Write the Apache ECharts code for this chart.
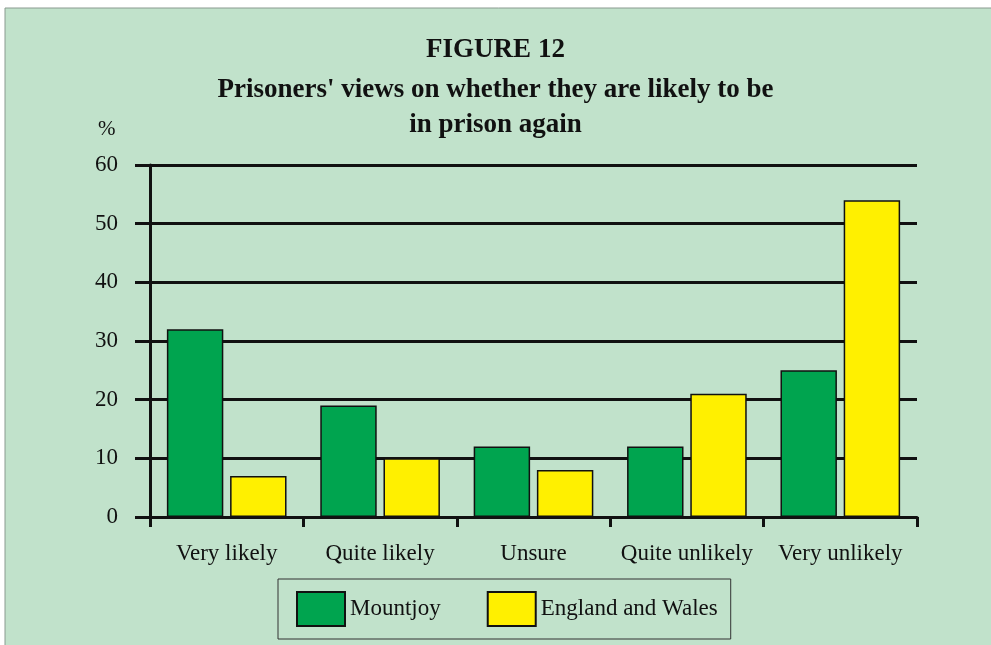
<!DOCTYPE html>
<html><head><meta charset="utf-8">
<script src="https://cdn.jsdelivr.net/npm/echarts@6/dist/echarts.min.js"></script>
<style>html,body{margin:0;padding:0;background:#fff}#c{width:991px;height:645px}</style>
</head><body><div id="c"></div>
<script>
var categories = ["Very likely", "Quite likely", "Unsure", "Quite unlikely", "Very unlikely"];
var mountjoy = [32, 19, 12, 12, 25];
var englandWales = [7, 10, 8, 21, 54];
var titleLines = ["FIGURE 12", "Prisoners' views on whether they are likely to be", "in prison again"];

var font = "Liberation Serif";
var chart = echarts.init(document.getElementById('c'), null, {renderer: 'canvas'});
chart.setOption({
  backgroundColor: '#ffffff',
  animation: false,
  graphic: [
    {type: 'rect', z: -10, shape: {x: 5, y: 8, width: 1000, height: 700},
     style: {fill: '#c1e2cb', stroke: '#8a9a90', lineWidth: 1}},
    {type: 'text', left: 98, top: 119, style: {text: '%', font: '21px "' + font + '"', fill: '#111'}}
  ],
  title: [
    {text: titleLines[0], left: 'center', top: 32, textStyle: {fontFamily: font, fontWeight: 'bold', fontSize: 27, color: '#111'}},
    {text: titleLines[1], left: 'center', top: 72, textStyle: {fontFamily: font, fontWeight: 'bold', fontSize: 27, color: '#111'}},
    {text: titleLines[2], left: 'center', top: 107, textStyle: {fontFamily: font, fontWeight: 'bold', fontSize: 27, color: '#111'}}
  ],
  legend: {
    left: 278, top: 579, width: 452,
    padding: [12, 13, 12, 18], itemGap: 46,
    itemWidth: 48, itemHeight: 34, icon: 'rect',
    borderColor: '#333', borderWidth: 1,
    textStyle: {fontFamily: font, fontSize: 23, color: '#111', padding: [8, 0, 0, 0]},
    data: ['Mountjoy', 'England and Wales']
  },
  grid: {left: 150, right: 74, top: 165, bottom: 128},
  xAxis: {
    type: 'category', data: categories,
    axisLine: {lineStyle: {color: '#111', width: 3}},
    axisTick: {show: true, interval: 0, length: 10, lineStyle: {color: '#111', width: 3}},
    axisLabel: {interval: 0, fontFamily: font, fontSize: 23, color: '#111', margin: 25}
  },
  yAxis: {
    type: 'value', min: 0, max: 60, interval: 10,
    axisLine: {show: true, lineStyle: {color: '#111', width: 3}},
    axisTick: {show: true, length: 15, lineStyle: {color: '#111', width: 3}},
    axisLabel: {fontFamily: font, fontSize: 23, color: '#111', margin: 32},
    splitLine: {lineStyle: {color: '#111', width: 3}}
  },
  series: [
    {name: 'Mountjoy', type: 'bar', data: mountjoy, barGap: '12%', barCategoryGap: '22%',
     itemStyle: {color: '#00a44f', borderColor: '#111', borderWidth: 1.5}},
    {name: 'England and Wales', type: 'bar', data: englandWales,
     itemStyle: {color: '#fff000', borderColor: '#111', borderWidth: 1.5}}
  ]
});
</script></body></html>
